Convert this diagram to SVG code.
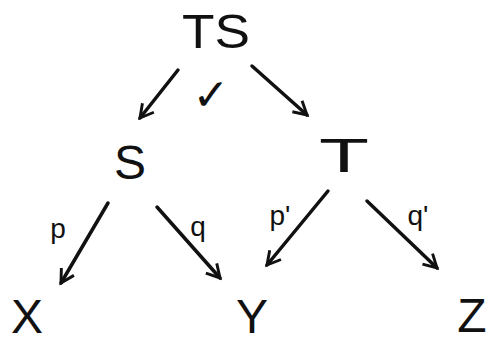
<svg xmlns="http://www.w3.org/2000/svg" width="494" height="345" viewBox="0 0 494 345">
<style>
.n{font-family:"Liberation Sans","DejaVu Sans",sans-serif;fill:#111;text-anchor:middle}
.big{font-size:48px}
.lab{font-size:28px}
.e{stroke:#111;stroke-width:3.5;fill:none;stroke-linecap:round;marker-end:url(#ah)}
</style>
<defs>
<marker id="ah" viewBox="0 0 12 12" refX="10" refY="6" markerWidth="5" markerHeight="5" orient="auto" markerUnits="strokeWidth">
<path d="M1,1 L10,6 L1,11" fill="none" stroke="#111" stroke-width="2"/>
</marker>
</defs>
<rect width="494" height="345" fill="#fff"/>
<g id="TS"><text class="n big" x="216" y="48" textLength="68" lengthAdjust="spacingAndGlyphs">TS</text></g>
<g id="S"><text class="n big" x="130" y="179">S</text></g>
<g id="T"><text class="n big" x="344" y="172" textLength="50" lengthAdjust="spacingAndGlyphs">T</text></g>
<g id="X"><text class="n big" x="27" y="333">X</text></g>
<g id="Y"><text class="n big" x="252" y="333">Y</text></g>
<g id="Z"><text class="n big" x="472" y="332">Z</text></g>
<g id="connectors">
<line class="e" x1="178" y1="70" x2="140" y2="118"/>
<line class="e" x1="252" y1="66" x2="307" y2="115"/>
<line class="e" x1="108" y1="203" x2="61" y2="283"/>
<line class="e" x1="157" y1="207" x2="220" y2="278"/>
<line class="e" x1="328" y1="191" x2="267" y2="265"/>
<line class="e" x1="367" y1="201" x2="437" y2="268"/>
</g>
<g id="labels">
<text class="n" style="font-size:44px" x="211" y="110">✓</text>
<text class="n lab" x="58" y="238">p</text>
<text class="n lab" x="198" y="236">q</text>
<text class="n lab" x="280" y="225">p'</text>
<text class="n lab" x="418" y="225">q'</text>
</g>
</svg>
